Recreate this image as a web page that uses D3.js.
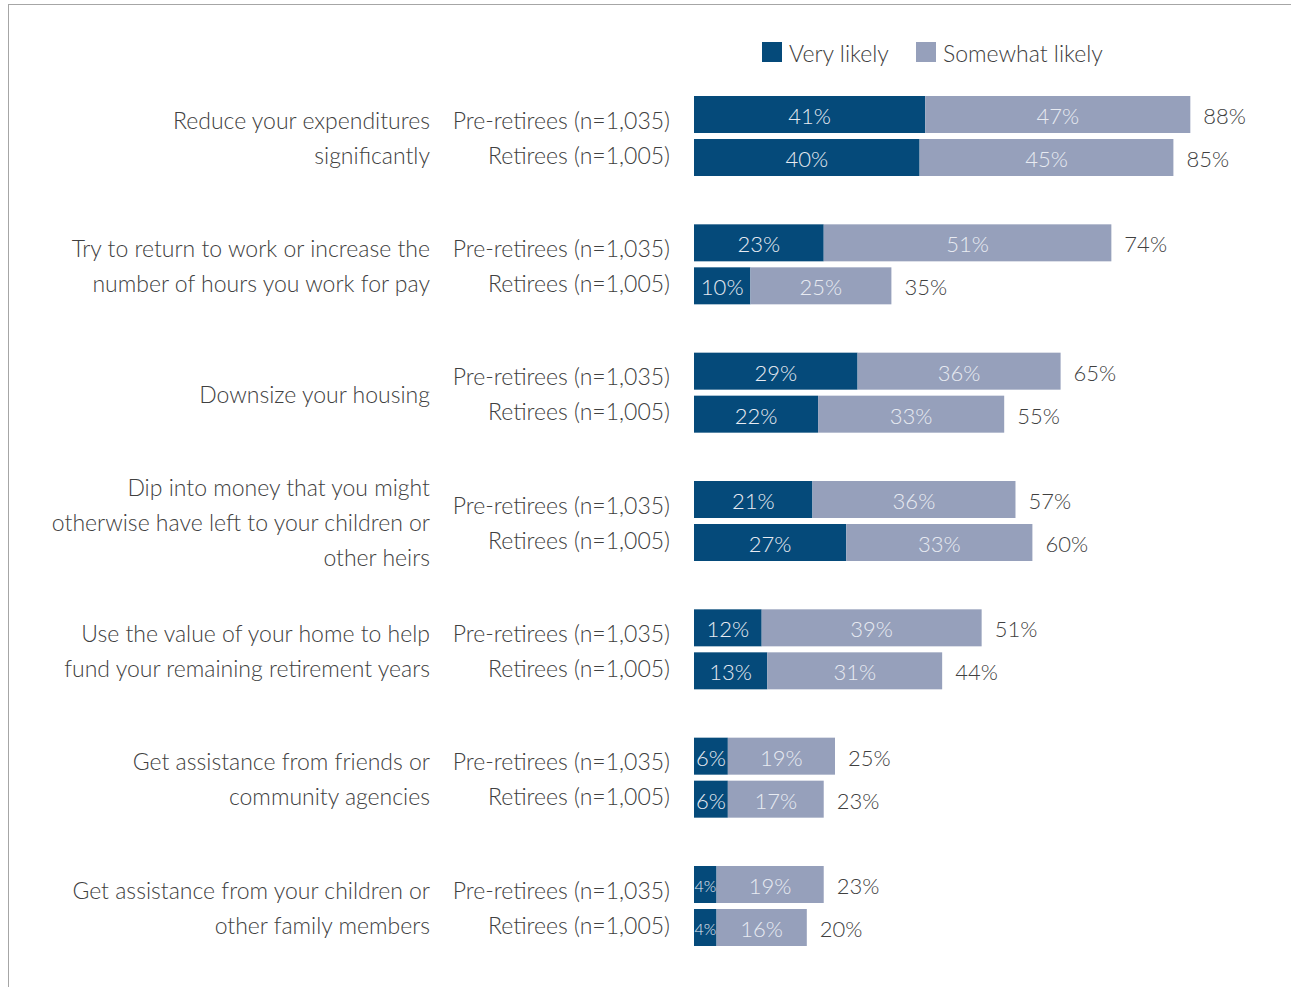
<!DOCTYPE html>
<html><head><meta charset="utf-8">
<script src="https://cdn.jsdelivr.net/npm/d3@7"></script>
<style>
html,body{margin:0;padding:0;background:#fff;}
svg{display:block;}
text{font-family:"Lato",sans-serif;font-weight:300;}
</style></head>
<body>
<svg id="c" width="1291" height="987"></svg>
<script>
const categories = [
  ["Reduce your expenditures","significantly"],
  ["Try to return to work or increase the","number of hours you work for pay"],
  ["Downsize your housing"],
  ["Dip into money that you might","otherwise have left to your children or","other heirs"],
  ["Use the value of your home to help","fund your remaining retirement years"],
  ["Get assistance from friends or","community agencies"],
  ["Get assistance from your children or","other family members"]
];
const groups = ["Pre-retirees (n=1,035)","Retirees (n=1,005)"];
const seriesNames = ["Very likely","Somewhat likely"];
const preVery     = [41,23,29,21,12,6,4];
const preSomewhat = [47,51,36,36,39,19,19];
const preTotal    = [88,74,65,57,51,25,23];
const retVery     = [40,10,22,27,13,6,4];
const retSomewhat = [45,25,33,33,31,17,16];
const retTotal    = [85,35,55,60,44,23,20];

const colors = ["#054a7a","#96a0bb"];
const textColor = "#404040";
const svg = d3.select("#c");

// frame
svg.append("line").attr("x1",8).attr("x2",1291).attr("y1",4.5).attr("y2",4.5).attr("stroke","#a6a6a6");
svg.append("line").attr("x1",8.5).attr("x2",8.5).attr("y1",4).attr("y2",987).attr("stroke","#a6a6a6");

const x = d3.scaleLinear().domain([0,100]).range([694,1258]);
const y = d3.scalePoint().domain(d3.range(categories.length)).range([136,906]);
const barH = 37;
const rowOffset = [-40, 3];
const lineH = 35;
const fs = 22;
const fsLabel = 23;

const rows = [
  {v:preVery, s:preSomewhat, t:preTotal},
  {v:retVery, s:retSomewhat, t:retTotal}
];

categories.forEach((lines,i)=>{
  const c = y(i);
  const n = lines.length;
  const g = svg.append("g");
  lines.forEach((ln,k)=>{
    g.append("text").attr("x",430).attr("y", c+1 + (k-(n-1)/2)*lineH)
      .attr("dominant-baseline","central").attr("text-anchor","end")
      .attr("font-size",fsLabel).attr("fill",textColor).text(ln);
  });
  groups.forEach((gl,k)=>{
    g.append("text").attr("x",670).attr("y", c+1 + (k-0.5)*lineH)
      .attr("dominant-baseline","central").attr("text-anchor","end")
      .attr("font-size",fsLabel).attr("fill",textColor).text(gl);
  });
  rows.forEach((r,k)=>{
    const by = c + rowOffset[k];
    const v = r.v[i], s = r.s[i], t = r.t[i];
    g.append("rect").attr("x",x(0)).attr("y",by).attr("width",x(v)-x(0)).attr("height",barH).attr("fill",colors[0]);
    g.append("rect").attr("x",x(v)).attr("y",by).attr("width",x(v+s)-x(v)).attr("height",barH).attr("fill",colors[1]);
    const small = (x(v)-x(0)) < 30;
    g.append("text").attr("x",(x(0)+x(v))/2).attr("y",by+barH/2+1)
      .attr("dominant-baseline","central").attr("text-anchor","middle")
      .attr("font-size", small?16:fs).attr("fill","#e8ebf2").text(v+"%");
    g.append("text").attr("x",(x(v)+x(v+s))/2).attr("y",by+barH/2+1)
      .attr("dominant-baseline","central").attr("text-anchor","middle")
      .attr("font-size",fs).attr("fill","#e8ebf2").text(s+"%");
    g.append("text").attr("x",x(v+s)+13).attr("y",by+barH/2+1)
      .attr("dominant-baseline","central").attr("text-anchor","start")
      .attr("font-size",fs).attr("fill",textColor).text(t+"%");
  });
});

// legend
const legX = [762, 916];
seriesNames.forEach((nm,k)=>{
  svg.append("rect").attr("x",legX[k]).attr("y",42).attr("width",20).attr("height",20).attr("fill",colors[k]);
  svg.append("text").attr("x",legX[k]+27).attr("y",53).attr("dominant-baseline","central")
    .attr("font-size",fsLabel).attr("fill",textColor).text(nm);
});
</script>
</body></html>
